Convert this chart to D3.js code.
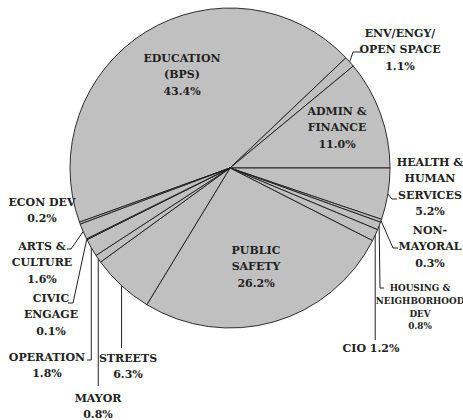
<!DOCTYPE html>
<html>
<head>
<meta charset="utf-8">
<script src="https://cdn.jsdelivr.net/npm/d3@7"></script>
<style>
  body { margin: 0; background: #fff; }
  svg { display: block; }
  .slice { fill: #c0c0c0; stroke: #1a1a1a; stroke-width: 0.9; }
  .lbl { font-family: "DejaVu Serif", serif; font-weight: bold; fill: #222; }
  .leader { fill: none; stroke: #222; stroke-width: 1; }
</style>
</head>
<body>
<div id="chart"></div>
<script>
// Budget shares, clockwise starting with Education
const categories = ["EDUCATION (BPS)", "ENV/ENGY/OPEN SPACE", "ADMIN & FINANCE",
    "HEALTH & HUMAN SERVICES", "NON-MAYORAL", "HOUSING & NEIGHBORHOOD DEV", "CIO",
    "PUBLIC SAFETY", "STREETS", "MAYOR", "OPERATION", "CIVIC ENGAGE",
    "ARTS & CULTURE", "ECON DEV"];
const shares = [43.4, 1.1, 11.0, 5.2, 0.3, 0.8, 1.2, 26.2, 6.3, 0.8, 1.8, 0.1, 1.6, 0.2];
const labelLines = [["EDUCATION", "(BPS)"], ["ENV/ENGY/", "OPEN SPACE"], ["ADMIN &", "FINANCE"],
    ["HEALTH &", "HUMAN", "SERVICES"], ["NON-", "MAYORAL"], ["HOUSING &", "NEIGHBORHOOD", "DEV"],
    ["CIO"], ["PUBLIC", "SAFETY"], ["STREETS"], ["MAYOR"], ["OPERATION"], ["CIVIC", "ENGAGE"],
    ["ARTS &", "CULTURE"], ["ECON DEV"]];

// Label placement (x = text centre, y = centre of first line) and leader bends
const layout = {
    "EDUCATION (BPS)":            {x: 182, y: 58},
    "ENV/ENGY/OPEN SPACE":        {x: 400, y: 33, leader: [[353, 52], [361, 52]]},
    "ADMIN & FINANCE":            {x: 337, y: 111},
    "HEALTH & HUMAN SERVICES":    {x: 430, y: 162, leader: [[392, 199], [397, 199]]},
    "NON-MAYORAL":                {x: 430, y: 230, leader: [[393, 248], [398, 248]]},
    "HOUSING & NEIGHBORHOOD DEV": {x: 420, y: 288, size: 8.8, lh: 12.7, leader: [[380, 288], [384, 288]]},
    "CIO":                        {x: 371, y: 348, inline: true, leader: [[null, 340]]},
    "PUBLIC SAFETY":              {x: 256, y: 250},
    "STREETS":                    {x: 128, y: 358, leader: [[null, 348]]},
    "MAYOR":                      {x: 98,  y: 398, leader: [[null, 386]]},
    "OPERATION":                  {x: 47,  y: 357, leader: [[null, 360], [87, 360]]},
    "CIVIC ENGAGE":               {x: 51,  y: 298, leader: [[73, 303], [68, 303]]},
    "ARTS & CULTURE":             {x: 42,  y: 246, leader: [[71, 249], [67, 249]]},
    "ECON DEV":                   {x: 42,  y: 202}
};

const width = 463, height = 420;
const cx = 230, cy = 168, radius = 160;

const svg = d3.select("#chart").append("svg")
    .attr("width", width)
    .attr("height", height);

const g = svg.append("g").attr("transform", "translate(" + cx + "," + cy + ")");

// Health & Human Services begins at 3 o'clock
const total = d3.sum(shares);
const start = Math.PI / 2 - 2 * Math.PI * d3.sum(shares.slice(0, 3)) / total;

const pie = d3.pie().sort(null).value(d => d.share)
    .startAngle(start).endAngle(start + 2 * Math.PI);
const arc = d3.arc().innerRadius(0).outerRadius(radius);

const data = categories.map((c, i) => ({name: c, share: shares[i], lines: labelLines[i]}));
const arcs = pie(data);

g.selectAll("path.slice")
    .data(arcs)
    .enter()
    .append("path")
    .attr("class", "slice")
    .attr("d", arc);

// Leaders start on the rim at the slice's mid angle
arcs.forEach(function(a) {
    let lay = layout[a.data.name];
    if (!lay.leader) return;
    let mid = (a.startAngle + a.endAngle) / 2;
    let px = cx + radius * Math.sin(mid);
    let py = cy - radius * Math.cos(mid);
    let pts = [[px, py]];
    lay.leader.forEach(p => pts.push([p[0] === null ? px : p[0], p[1]]));
    svg.append("path")
        .attr("class", "leader")
        .attr("d", d3.line()(pts));
});

// Labels
arcs.forEach(function(a) {
    let lay = layout[a.data.name];
    let size = lay.size || 11;
    let lh = lay.lh || 16.3;
    let pct = a.data.share.toFixed(1) + "%";
    let lines = lay.inline ? [a.data.lines[0] + " " + pct] : a.data.lines.concat([pct]);
    let text = svg.append("text")
        .attr("class", "lbl")
        .attr("text-anchor", "middle")
        .style("font-size", size + "px");
    lines.forEach(function(l, i) {
        text.append("tspan")
            .attr("x", lay.x)
            .attr("y", lay.y + i * lh + size * 0.36)
            .text(l);
    });
});
</script>
</body>
</html>
